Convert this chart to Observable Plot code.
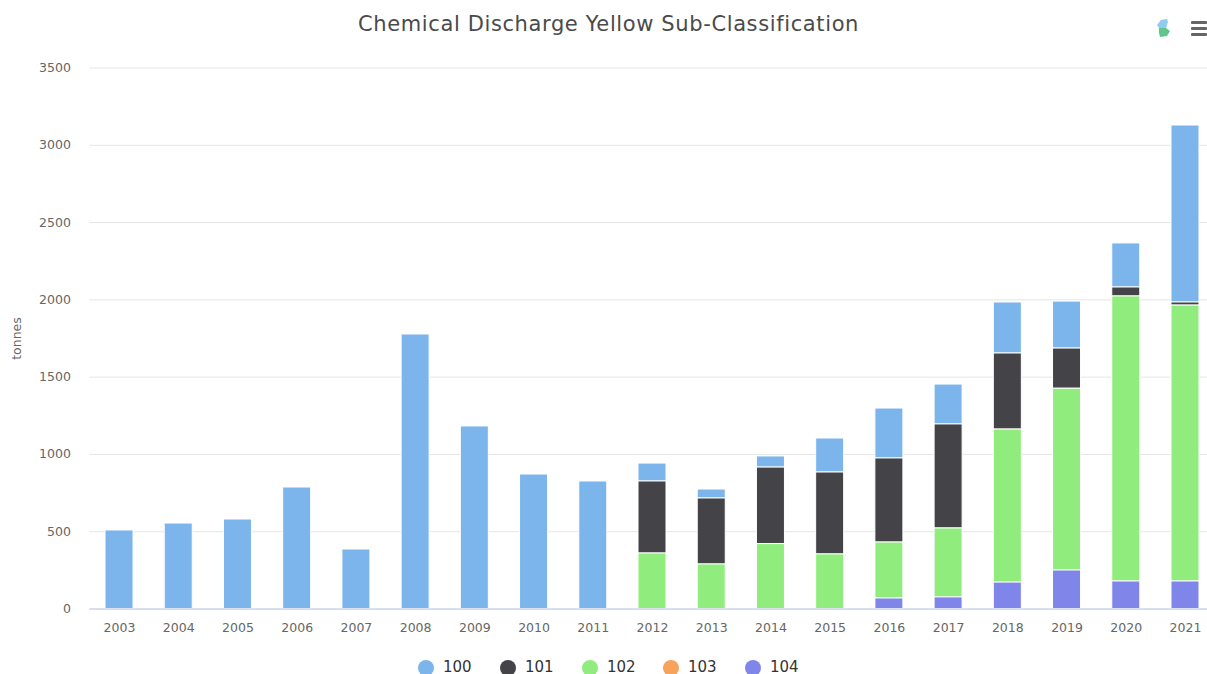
<!DOCTYPE html>
<html><head><meta charset="utf-8">
<script src="https://cdn.jsdelivr.net/npm/d3@7"></script>
<script src="https://cdn.jsdelivr.net/npm/@observablehq/plot@0.6"></script>
<style>
html,body{margin:0;padding:0;background:#fff;overflow:hidden;width:1207px;height:674px;position:relative;font-family:"DejaVu Sans",sans-serif}
#title{position:absolute;left:0;top:10px;width:1217px;text-align:center;font-size:21px;line-height:28px;color:#4a4a4a;letter-spacing:.62px}
#chart{position:absolute;left:0;top:50px}
#legend{position:absolute;left:0;top:657px;height:17px;width:1207px}
.li{position:absolute;top:0;font-size:15px;color:#333;font-weight:500;white-space:nowrap}
.li i{position:absolute;left:0;top:3px;width:16px;height:16px;border-radius:50%}
.li span{position:absolute;left:25px;top:3px;line-height:14px;height:14px}
.burger{position:absolute;left:1191px;top:21px;width:16px}
.burger b{display:block;height:3px;background:#666;margin-bottom:3px;border-radius:1px}
#blob{position:absolute;left:1156px;top:18px}
</style></head><body>
<div id="title">Chemical Discharge Yellow Sub-Classification</div>
<svg id="blob" width="16" height="20" viewBox="0 0 16 20"><path d="M1 7 L5 2 L11 1 L12 4 L10 10 L3 10 Z" fill="#8fcdf0"/><path d="M3 10 L10 10 L14 13 L11 18 L4 19 L3 15 Z" fill="#5fc78a"/></svg>
<div class="burger"><b></b><b></b><b></b></div>
<div id="chart"></div>
<div id="legend"></div>
<script>
const years = [2003,2004,2005,2006,2007,2008,2009,2010,2011,2012,2013,2014,2015,2016,2017,2018,2019,2020,2021];
const seriesNames = ["100","101","102","103","104"];
const seriesColors = ["#7cb5ec","#434348","#90ed7d","#f7a35c","#8085e9"];
const stackOrder = ["104","103","102","101","100"];
const values100 = [508,553,579,786,385,1776,1181,870,825,116,58,72,220,323,258,330,304,285,1145];
const values101 = [0,0,0,0,0,0,0,0,0,466,427,495,530,544,673,492,260,58,20];
const values102 = [0,0,0,0,0,0,0,0,0,359,288,420,353,362,446,990,1176,1844,1785];
const values103 = [0,0,0,0,0,0,0,0,0,0,0,0,0,0,0,0,0,0,0];
const values104 = [0,0,0,0,0,0,0,0,0,0,0,0,0,68,75,171,249,178,178];
const yTicks = [0,500,1000,1500,2000,2500,3000,3500];

const bySeries = {"100":values100,"101":values101,"102":values102,"103":values103,"104":values104};
const rows = seriesNames.flatMap(s => years.map((year,i) => ({year, series:s, value:bySeries[s][i]})));

const plot = Plot.plot({
  width:1207, height:595,
  marginLeft:89.4, marginRight:-7.6, marginTop:17.5, marginBottom:36.5,
  style:{fontFamily:"DejaVu Sans, sans-serif", fontSize:"12.5px", color:"#666", background:"#fff"},
  x:{type:"band", domain:years, paddingInner:0.527, paddingOuter:0.2635, align:0.5, round:false, label:null, tickFormat:"d"},
  y:{domain:[0,3500], label:null},
  color:{domain:seriesNames, range:seriesColors},
  marks:[
    Plot.gridY(yTicks,{stroke:"#e6e6e6", strokeOpacity:1, strokeWidth:1}),
    Plot.axisY({ticks:yTicks, tickFormat:"d", tickSize:0, tickPadding:19, label:"tonnes", labelArrow:"none", labelAnchor:"center", labelOffset:78, fill:"#666"}),
    Plot.axisX({tickFormat:"d", tickSize:0, tickPadding:14, label:null, fill:"#666"}),
    Plot.barY(rows,{x:"year", y:"value", fill:"series", order:stackOrder, stroke:"#fff", strokeWidth:1, filter:d=>d.value>0}),
    Plot.ruleY([0],{stroke:"#ccd6eb", strokeWidth:1.5})
  ]
});
document.getElementById("chart").appendChild(plot);

const legendX = [418,500,582,663,745];
const legend = document.getElementById("legend");
seriesNames.forEach((s,i)=>{
  const el=document.createElement("div"); el.className="li"; el.style.left=legendX[i]+"px";
  el.innerHTML=`<i style="background:${seriesColors[i]}"></i><span>${s}</span>`;
  legend.appendChild(el);
});
</script>
</body></html>
